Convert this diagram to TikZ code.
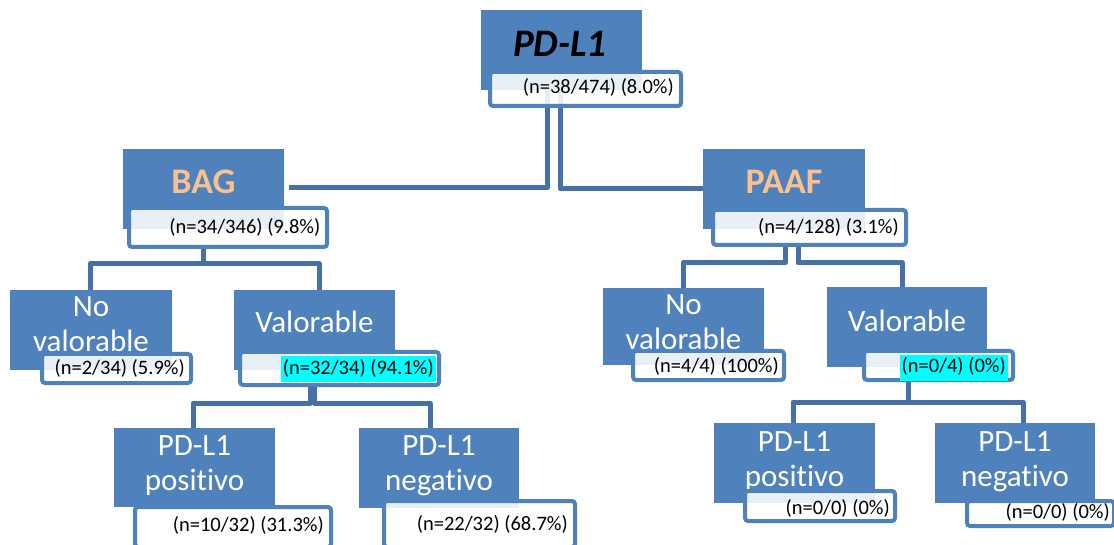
\documentclass[tikz,border=0pt]{standalone}
\usepackage{fontspec}
\setmainfont{Carlito}[Ligatures=NoCommon]
\definecolor{boxblue}{HTML}{4F81BD}
\definecolor{linkblue}{HTML}{4670A6}
\definecolor{peach}{HTML}{FAC090}
\definecolor{hilite}{HTML}{00FFFF}
\pgfdeclarelayer{bg}
\pgfsetlayers{bg,main}
\tikzset{
  bbox/.style={fill=boxblue, draw=none, anchor=north west, inner sep=0pt, outer sep=0pt},
  lbl/.style={fill=white, fill opacity=0.88, draw=boxblue, line width=4pt, rounded corners=3pt,
              anchor=north west, inner sep=0pt, outer sep=0pt},
  btxt/.style={text=white, font=\fontsize{31}{35}\selectfont, align=center, anchor=base, inner sep=0pt},
  ltxt/.style={text=black, font=\fontsize{20.5}{24}\selectfont, anchor=base east, inner sep=1pt},
  hl/.style={fill=hilite, text height=15pt, text depth=5pt, inner ysep=2.5pt, inner xsep=2pt},
  conn/.style={draw=linkblue, line width=5pt, line join=round}
}
\begin{document}
\begin{tikzpicture}[x=1pt,y=-1pt]
\useasboundingbox (0,0) rectangle (1114,545);

% ---- blue boxes
\node[bbox, minimum width=161pt, minimum height=80pt] (T) at (481,10) {};
\node[bbox, minimum width=161pt, minimum height=80pt] (BAG) at (123,149) {};
\node[bbox, minimum width=162pt, minimum height=80pt] (PAAF) at (703,149) {};
\node[bbox, minimum width=162pt, minimum height=80pt] (NVL) at (10,290) {};
\node[bbox, minimum width=161pt, minimum height=80pt] (VL) at (234,290) {};
\node[bbox, minimum width=161pt, minimum height=77pt] (NVR) at (603,288) {};
\node[bbox, minimum width=160pt, minimum height=80pt] (VR) at (827,287) {};
\node[bbox, minimum width=161pt, minimum height=79pt] (PPL) at (114,428) {};
\node[bbox, minimum width=160pt, minimum height=80pt] (PNL) at (359,428) {};
\node[bbox, minimum width=161pt, minimum height=80pt] (PPR) at (714,423) {};
\node[bbox, minimum width=160pt, minimum height=80pt] (PNR) at (935,423) {};

% ---- box texts (base = baseline of the last line)
\node[anchor=base, inner sep=0pt, font=\fontsize{39}{42}\selectfont\bfseries\itshape] (Tt) at (560,57) {PD-L1};
\node[anchor=base, inner sep=0pt, text=peach, font=\fontsize{36}{40}\selectfont\bfseries] (BAGt) at (203.5,194) {BAG};
\node[anchor=base, inner sep=0pt, text=peach, font=\fontsize{36}{40}\selectfont\bfseries] (PAAFt) at (784,194) {PAAF};
\node[btxt] (NVLt) at (91,352) {No\\valorable};
\node[btxt] (VLt) at (314.5,333) {Valorable};
\node[btxt] (NVRt) at (683.5,349) {No\\valorable};
\node[btxt] (VRt) at (907,332) {Valorable};
\node[btxt] (PPLt) at (194.5,490) {PD-L1\\positivo};
\node[btxt] (PNLt) at (439,490) {PD-L1\\negativo};
\node[btxt] (PPRt) at (794.5,486) {PD-L1\\positivo};
\node[btxt] (PNRt) at (1015,486) {PD-L1\\negativo};

% ---- labels
\node[lbl, minimum width=191pt, minimum height=34pt] (Tl) at (490,72) {};
\node[lbl, minimum width=198pt, minimum height=39pt] (BAGl) at (129,208) {};
\node[lbl, minimum width=193pt, minimum height=35pt] (PAAFl) at (713,210) {};
\node[lbl, minimum width=149pt, minimum height=29pt] (NVLl) at (42,354) {};
\node[lbl, minimum width=199pt, minimum height=33pt] (VLl) at (240,352) {};
\node[lbl, minimum width=151pt, minimum height=29pt] (NVRl) at (633,351) {};
\node[lbl, minimum width=149pt, minimum height=29pt] (VRl) at (864,351) {};
\node[lbl, minimum width=196pt, minimum height=40pt] (PPLl) at (135,507) {};
\node[lbl, minimum width=191pt, minimum height=46pt] (PNLl) at (384,501) {};
\node[lbl, minimum width=150pt, minimum height=30pt] (PPRl) at (745,491) {};
\node[lbl, minimum width=147pt, minimum height=25pt] (PNRl) at (967,501) {};

% ---- label texts
\node[ltxt] (Tlt) at (675,94) {(n=38/474) (8.0\%)};
\node[ltxt] (BAGlt) at (321.5,234) {(n=34/346) (9.8\%)};
\node[ltxt] (PAAFlt) at (900,234) {(n=4/128) (3.1\%)};
\node[ltxt] (NVLlt) at (186,374) {(n=2/34) (5.9\%)};
\node[ltxt, hl] (VLlt) at (436,374) {(n=32/34) (94.1\%)};
\node[ltxt] (NVRlt) at (780,373) {(n=4/4) (100\%)};
\node[ltxt, hl] (VRlt) at (1008,373) {(n=0/4) (0\%)};
\node[ltxt] (PPLlt) at (325,531) {(n=10/32) (31.3\%)};
\node[ltxt] (PNLlt) at (569,530) {(n=22/32) (68.7\%)};
\node[ltxt] (PPRlt) at (891,514) {(n=0/0) (0\%)};
\node[ltxt] (PNRlt) at (1111,518) {(n=0/0) (0\%)};

% ---- connectors (behind); note: xshift/yshift are page directions (yshift>0 = up)
\begin{pgfonlayer}{bg}
\draw[conn] ([xshift=-14.5pt]T.south) |- ([xshift=5pt,yshift=1pt]BAG.east);
\draw[conn] ([xshift=-1.5pt]T.south) |- (PAAF.west);
% BAG
\draw[conn] (BAG.south |- BAGl.south) -- ++(0,16);
\draw[conn] ([xshift=-1pt]NVL.north) -- ++(0,-26) -| ([xshift=4.5pt]VL.north);
% PAAF
\draw[conn] ([xshift=1pt]PAAF.south |- PAAFl.south) |- ([xshift=-0.5pt,yshift=25pt]NVR.north) -- ([xshift=-0.5pt]NVR.north);
\draw[conn] ([xshift=14pt]PAAF.south |- PAAFl.south) |- ([xshift=-5pt,yshift=24pt]VR.north) -- ([xshift=-5pt]VR.north);
% Valorable left
\draw[conn] ([xshift=-4.5pt]VL.south |- VLl.south) |- ([xshift=-1.5pt,yshift=25pt]PPL.north) -- ([xshift=-1.5pt]PPL.north);
\draw[conn] ([xshift=-0.5pt]VL.south |- VLl.south) |- ([xshift=-9pt,yshift=25pt]PNL.north) -- ([xshift=-9pt]PNL.north);
% Valorable right
\draw[conn] ([xshift=1pt]VR.south |- VRl.south) -- ++(0,20);
\draw[conn] ([xshift=-1.5pt]PPR.north) -- ++(0,-21) -| ([xshift=8pt]PNR.north);
\end{pgfonlayer}
\end{tikzpicture}
\end{document}
